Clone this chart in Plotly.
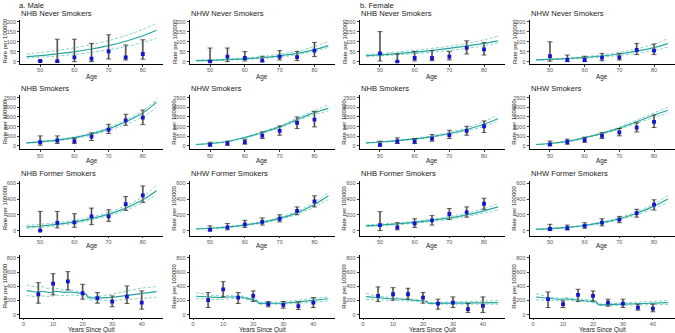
import plotly.graph_objects as go

W, H = 675, 333

# ---------------- data ----------------
AGES = [50, 55, 60, 65, 70, 75, 80]
FIT_AGES = [46, 50, 55, 60, 65, 70, 75, 80, 84]
YSQ = [5, 10, 15, 20, 25, 30, 35, 40]
FIT_YSQ = [1, 4, 6, 9, 11, 14, 16, 19, 21, 22, 24, 30, 35, 40, 45]

# Row 1: never smokers
m_nhb_never = [3, 2, 21, 15, 51, 21, 38]
m_nhb_never_lo = [0, 0, 0, 0, 13, 8, 12]
m_nhb_never_hi = [5, 112, 112, 91, 134, 83, 109]
m_nhb_never_fit = [25, 30, 39, 49, 63, 80, 102, 129, 157]
m_nhb_never_fit_lo = [18, 22, 28, 36, 46, 59, 75, 96, 116]
m_nhb_never_fit_hi = [38, 45, 56, 69, 85, 105, 130, 161, 190]

m_nhw_never = [0, 25, 18, 5, 25, 22, 55]
m_nhw_never_lo = [0, 0, 3, 0, 8, 5, 25]
m_nhw_never_hi = [68, 68, 50, 27, 55, 51, 96]
m_nhw_never_fit = [5, 6.7, 9.7, 14, 20, 29, 41, 60, 80]
m_nhw_never_fit_lo = [4, 5, 8, 11, 16, 23, 34, 52, 71]
m_nhw_never_fit_hi = [7, 9, 13, 18, 26, 37, 52, 76, 100]

f_nhb_never = [41, 0, 18, 18, 25, 69, 61]
f_nhb_never_lo = [3, 0, 3, 5, 8, 38, 33]
f_nhb_never_hi = [150, 38, 51, 55, 51, 104, 96]
f_nhb_never_fit = [30, 34, 40, 47, 56, 66, 78, 91, 104]
f_nhb_never_fit_lo = [25, 29, 34, 40, 47, 56, 66, 79, 92]
f_nhb_never_fit_hi = [36, 41, 48, 56, 66, 77, 91, 109, 127]

f_nhw_never = [27, 8, 8, 20, 21, 58, 55]
f_nhw_never_lo = [2, 0, 0, 4, 8, 35, 35]
f_nhw_never_hi = [99, 33, 27, 41, 41, 91, 88]
f_nhw_never_fit = [9, 11.5, 15.5, 21, 28, 38, 52, 70, 90]
f_nhw_never_fit_lo = [8, 10, 13, 17, 23, 31, 41, 56, 72]
f_nhw_never_fit_hi = [10, 13, 18, 25, 34, 46, 63, 87, 115]

# Row 2: smokers
m_nhb_smk = [190, 276, 241, 483, 845, 1327, 1465]
m_nhb_smk_lo = [34, 120, 120, 276, 638, 1069, 1103]
m_nhb_smk_hi = [517, 517, 397, 672, 1120, 1638, 1862]
m_nhb_smk_fit = [155, 210, 300, 430, 620, 880, 1250, 1700, 2270]
m_nhb_smk_fit_lo = [140, 190, 270, 390, 560, 800, 1110, 1510, 1980]
m_nhb_smk_fit_hi = [170, 230, 330, 470, 670, 950, 1330, 1830, 2400]

m_nhw_smk = [52, 120, 190, 534, 776, 1190, 1362]
m_nhw_smk_lo = [0, 34, 86, 379, 552, 897, 983]
m_nhw_smk_hi = [190, 241, 345, 724, 1034, 1500, 1793]
m_nhw_smk_fit = [69, 120, 224, 431, 690, 983, 1362, 1724, 1948]
m_nhw_smk_fit_lo = [62, 110, 205, 400, 650, 930, 1290, 1620, 1810]
m_nhw_smk_fit_hi = [75, 130, 240, 460, 730, 1040, 1440, 1840, 2140]

f_nhb_smk = [52, 224, 224, 379, 552, 776, 1017]
f_nhb_smk_lo = [0, 120, 120, 241, 379, 552, 690]
f_nhb_smk_hi = [241, 414, 379, 586, 810, 1017, 1293]
f_nhb_smk_fit = [155, 200, 270, 360, 480, 640, 850, 1120, 1410]
f_nhb_smk_fit_lo = [145, 185, 250, 335, 445, 590, 780, 1010, 1270]
f_nhb_smk_fit_hi = [165, 215, 290, 390, 520, 700, 940, 1260, 1630]

f_nhw_smk = [80, 200, 300, 520, 700, 950, 1250]
f_nhw_smk_lo = [0, 80, 180, 380, 520, 720, 950]
f_nhw_smk_hi = [250, 350, 450, 680, 900, 1200, 1600]
f_nhw_smk_fit = [70, 120, 230, 420, 650, 920, 1250, 1600, 1850]
f_nhw_smk_fit_lo = [62, 110, 210, 390, 610, 860, 1170, 1480, 1700]
f_nhw_smk_fit_hi = [78, 130, 250, 450, 690, 980, 1330, 1720, 2000]

# Row 3: former smokers
m_nhb_frm = [0, 97, 105, 180, 180, 336, 445]
m_nhb_frm_lo = [0, 34, 42, 75, 117, 256, 357]
m_nhb_frm_hi = [243, 243, 214, 285, 264, 432, 566]
m_nhb_frm_fit = [45, 58, 80, 110, 152, 208, 285, 390, 505]
m_nhb_frm_fit_lo = [30, 42, 62, 92, 135, 188, 258, 355, 450]
m_nhb_frm_fit_hi = [68, 80, 100, 130, 172, 232, 315, 430, 575]

m_nhw_frm = [10, 40, 80, 110, 150, 250, 370]
m_nhw_frm_lo = [0, 10, 40, 70, 110, 200, 300]
m_nhw_frm_hi = [60, 90, 130, 160, 200, 300, 440]
m_nhw_frm_fit = [20, 30, 45, 70, 105, 155, 225, 330, 440]
m_nhw_frm_fit_lo = [16, 25, 39, 62, 95, 142, 205, 300, 395]
m_nhw_frm_fit_hi = [25, 36, 52, 78, 115, 168, 245, 360, 485]

f_nhb_frm = [70, 40, 90, 130, 210, 230, 340]
f_nhb_frm_lo = [0, 10, 40, 70, 140, 170, 270]
f_nhb_frm_hi = [240, 100, 150, 190, 280, 300, 410]
f_nhb_frm_fit = [60, 70, 85, 105, 130, 160, 200, 250, 300]
f_nhb_frm_fit_lo = [50, 60, 74, 93, 116, 144, 180, 222, 262]
f_nhb_frm_fit_hi = [72, 82, 97, 118, 145, 178, 222, 280, 340]

f_nhw_frm = [20, 30, 60, 100, 140, 220, 330]
f_nhw_frm_lo = [0, 10, 30, 60, 100, 170, 260]
f_nhw_frm_hi = [80, 70, 100, 150, 180, 270, 390]
f_nhw_frm_fit = [15, 25, 40, 65, 100, 150, 220, 310, 400]
f_nhw_frm_fit_lo = [12, 20, 34, 57, 90, 136, 200, 280, 355]
f_nhw_frm_fit_hi = [19, 30, 47, 73, 110, 164, 240, 340, 445]

# Row 4: years since quit
m_nhb_ysq = [288, 437, 470, 302, 233, 186, 256, 172]
m_nhb_ysq_lo = [163, 279, 349, 219, 163, 112, 158, 79]
m_nhb_ysq_hi = [451, 577, 605, 428, 312, 265, 405, 335]
m_nhb_ysq_fit = [340, 320, 330, 310, 330, 315, 320, 300, 290, 240, 235, 245, 275, 305, 325]
m_nhb_ysq_fit_lo = [270, 255, 265, 255, 275, 270, 280, 265, 260, 210, 205, 200, 215, 235, 245]
m_nhb_ysq_fit_hi = [420, 390, 395, 360, 370, 345, 345, 320, 305, 255, 250, 290, 335, 375, 395]

m_nhw_ysq = [205, 358, 242, 265, 149, 140, 121, 172]
m_nhw_ysq_lo = [102, 251, 158, 186, 112, 93, 74, 102]
m_nhw_ysq_hi = [312, 465, 312, 335, 186, 186, 181, 242]
m_nhw_ysq_fit = [260, 250, 245, 240, 250, 250, 250, 220, 200, 160, 160, 165, 180, 200, 225]
m_nhw_ysq_fit_lo = [225, 215, 215, 215, 225, 230, 232, 205, 185, 148, 148, 150, 160, 175, 195]
m_nhw_ysq_fit_hi = [310, 285, 275, 265, 270, 265, 265, 235, 215, 175, 172, 185, 205, 225, 250]

f_nhb_ysq = [265, 288, 288, 242, 158, 172, 79, 126]
f_nhb_ysq_lo = [186, 205, 219, 163, 79, 102, 33, 33]
f_nhb_ysq_hi = [391, 381, 372, 312, 219, 251, 158, 251]
f_nhb_ysq_fit = [255, 240, 235, 225, 225, 215, 210, 200, 190, 160, 160, 165, 165, 170, 170]
f_nhb_ysq_fit_lo = [215, 210, 210, 205, 208, 200, 198, 188, 178, 150, 150, 152, 150, 150, 148]
f_nhb_ysq_fit_hi = [300, 265, 255, 240, 240, 228, 222, 210, 200, 172, 172, 180, 185, 195, 200]

f_nhw_ysq = [219, 149, 279, 265, 172, 158, 102, 88]
f_nhw_ysq_lo = [102, 102, 186, 195, 121, 102, 65, 42]
f_nhw_ysq_hi = [321, 195, 358, 335, 219, 219, 149, 149]
f_nhw_ysq_fit = [250, 240, 225, 215, 225, 210, 205, 195, 180, 140, 140, 150, 155, 165, 170]
f_nhw_ysq_fit_lo = [210, 210, 200, 195, 205, 195, 190, 180, 165, 130, 130, 135, 140, 142, 145]
f_nhw_ysq_fit_hi = [295, 260, 245, 230, 240, 225, 220, 210, 195, 152, 152, 165, 175, 190, 200]

TITLES = [
    ["NHB Never Smokers", "NHW Never Smokers", "NHB Never Smokers", "NHW Never Smokers"],
    ["NHB Smokers", "NHW Smokers", "NHB Smokers", "NHW Smokers"],
    ["NHB Former Smokers", "NHW Former Smokers", "NHB Former Smokers", "NHW Former Smokers"],
    ["", "", "", ""],
]
Y_TICKS = [[0, 50, 100, 150, 200], [0, 500, 1000, 1500, 2000, 2500],
           [0, 200, 400, 600], [0, 200, 400, 600, 800]]

PANELS = [
    [(m_nhb_never, m_nhb_never_lo, m_nhb_never_hi, m_nhb_never_fit, m_nhb_never_fit_lo, m_nhb_never_fit_hi),
     (m_nhw_never, m_nhw_never_lo, m_nhw_never_hi, m_nhw_never_fit, m_nhw_never_fit_lo, m_nhw_never_fit_hi),
     (f_nhb_never, f_nhb_never_lo, f_nhb_never_hi, f_nhb_never_fit, f_nhb_never_fit_lo, f_nhb_never_fit_hi),
     (f_nhw_never, f_nhw_never_lo, f_nhw_never_hi, f_nhw_never_fit, f_nhw_never_fit_lo, f_nhw_never_fit_hi)],
    [(m_nhb_smk, m_nhb_smk_lo, m_nhb_smk_hi, m_nhb_smk_fit, m_nhb_smk_fit_lo, m_nhb_smk_fit_hi),
     (m_nhw_smk, m_nhw_smk_lo, m_nhw_smk_hi, m_nhw_smk_fit, m_nhw_smk_fit_lo, m_nhw_smk_fit_hi),
     (f_nhb_smk, f_nhb_smk_lo, f_nhb_smk_hi, f_nhb_smk_fit, f_nhb_smk_fit_lo, f_nhb_smk_fit_hi),
     (f_nhw_smk, f_nhw_smk_lo, f_nhw_smk_hi, f_nhw_smk_fit, f_nhw_smk_fit_lo, f_nhw_smk_fit_hi)],
    [(m_nhb_frm, m_nhb_frm_lo, m_nhb_frm_hi, m_nhb_frm_fit, m_nhb_frm_fit_lo, m_nhb_frm_fit_hi),
     (m_nhw_frm, m_nhw_frm_lo, m_nhw_frm_hi, m_nhw_frm_fit, m_nhw_frm_fit_lo, m_nhw_frm_fit_hi),
     (f_nhb_frm, f_nhb_frm_lo, f_nhb_frm_hi, f_nhb_frm_fit, f_nhb_frm_fit_lo, f_nhb_frm_fit_hi),
     (f_nhw_frm, f_nhw_frm_lo, f_nhw_frm_hi, f_nhw_frm_fit, f_nhw_frm_fit_lo, f_nhw_frm_fit_hi)],
    [(m_nhb_ysq, m_nhb_ysq_lo, m_nhb_ysq_hi, m_nhb_ysq_fit, m_nhb_ysq_fit_lo, m_nhb_ysq_fit_hi),
     (m_nhw_ysq, m_nhw_ysq_lo, m_nhw_ysq_hi, m_nhw_ysq_fit, m_nhw_ysq_fit_lo, m_nhw_ysq_fit_hi),
     (f_nhb_ysq, f_nhb_ysq_lo, f_nhb_ysq_hi, f_nhb_ysq_fit, f_nhb_ysq_fit_lo, f_nhb_ysq_fit_hi),
     (f_nhw_ysq, f_nhw_ysq_lo, f_nhw_ysq_hi, f_nhw_ysq_fit, f_nhw_ysq_fit_lo, f_nhw_ysq_fit_hi)],
]

# ---------------- layout geometry (pixels) ----------------
COL_X = [(20, 163), (189.5, 335), (359.5, 504.5), (529.5, 674.5)]
ROW_Y = [(18.7, 63), (95, 149), (181, 236), (255.5, 318.5)]
ROW_YRANGE = [[-10, 210], [-170, 2619], [-63, 629], [-39, 839]]
TITLE_Y = [12.3, 88.3, 174, None]
XTITLE_Y = [76.5, 161, 246, 330.5]

FONT = "Liberation Sans, Arial, sans-serif"
LINE_COL = "#22A6A0"
BAND_COL = "#86D5C5"
PT_COL = "#1515D0"


def fx(p):
    return p / W


def fy(p):
    return 1 - p / H


fig = go.Figure()
annotations = []
layout = {}

for r in range(4):
    for c in range(4):
        k = r * 4 + c + 1
        xa = "x" if k == 1 else f"x{k}"
        ya = "y" if k == 1 else f"y{k}"
        obs, lo, hi, fit, flo, fhi = PANELS[r][c]
        xs = YSQ if r == 3 else AGES
        fxs = FIT_YSQ if r == 3 else FIT_AGES
        shape = "linear" if r == 3 else "spline"

        fig.add_trace(go.Scatter(x=fxs, y=fhi, mode="lines", xaxis=xa, yaxis=ya,
                                 line=dict(color=BAND_COL, width=1, dash="3px,2px", shape=shape),
                                 showlegend=False, hoverinfo="skip"))
        fig.add_trace(go.Scatter(x=fxs, y=flo, mode="lines", xaxis=xa, yaxis=ya,
                                 line=dict(color=BAND_COL, width=1, dash="3px,2px", shape=shape),
                                 showlegend=False, hoverinfo="skip"))
        fig.add_trace(go.Scatter(x=fxs, y=fit, mode="lines", xaxis=xa, yaxis=ya,
                                 line=dict(color=LINE_COL, width=1.2, shape=shape),
                                 showlegend=False, hoverinfo="skip"))
        ep = [h - o for h, o in zip(hi, obs)]
        em = [o - l for o, l in zip(obs, lo)]
        fig.add_trace(go.Scatter(x=xs, y=obs, mode="markers", xaxis=xa, yaxis=ya,
                                 marker=dict(size=0.1, color="rgba(0,0,0,0)"),
                                 error_y=dict(type="data", array=ep, arrayminus=em,
                                              color="#a0a0a0", thickness=2, width=0),
                                 showlegend=False, hoverinfo="skip"))
        fig.add_trace(go.Scatter(x=xs, y=obs, mode="markers", xaxis=xa, yaxis=ya,
                                 marker=dict(size=3.8, color=PT_COL, symbol="square"),
                                 error_y=dict(type="data", array=ep, arrayminus=em,
                                              color="#222222", thickness=0.7, width=2.5),
                                 showlegend=False))

        x0, x1 = COL_X[c]
        y0, y1 = ROW_Y[r]
        axcommon = dict(showgrid=False, zeroline=False, showline=True, linecolor="black",
                        linewidth=0.8, ticks="outside", ticklen=2, tickwidth=0.6,
                        tickcolor="#333", tickfont=dict(size=5.5, color="#555555", family=FONT))
        if r == 3:
            xr = [-1.2, 47.2]
            xt = [0, 10, 20, 30, 40]
        else:
            xr = [44.1, 85.9]
            xt = [50, 60, 70, 80]
        layout["xaxis" if k == 1 else f"xaxis{k}"] = dict(
            domain=[fx(x0), fx(x1)], range=xr, tickvals=xt, anchor=ya, fixedrange=True,
            ticklabelstandoff=-1, **axcommon)
        layout["yaxis" if k == 1 else f"yaxis{k}"] = dict(
            domain=[fy(y1), fy(y0)], range=ROW_YRANGE[r], tickvals=Y_TICKS[r], anchor=xa,
            fixedrange=True, **axcommon)

        if TITLES[r][c]:
            annotations.append(dict(text=TITLES[r][c], x=fx(x0 - 1), y=fy(TITLE_Y[r]), xref="paper",
                                    yref="paper", xanchor="left", yanchor="middle", showarrow=False,
                                    font=dict(size=7.6, color="#1a1a1a", family=FONT)))
        annotations.append(dict(text="Years Since Quit" if r == 3 else "Age",
                                x=fx((x0 + x1) / 2), y=fy(XTITLE_Y[r]), xref="paper", yref="paper",
                                xanchor="center", yanchor="middle", showarrow=False,
                                font=dict(size=6.3, color="#1a1a1a", family=FONT)))
        annotations.append(dict(text="Rate per 100000", x=fx(x0 - 15), y=fy((y0 + y1) / 2),
                                xref="paper", yref="paper", xanchor="center", yanchor="middle",
                                textangle=-90, showarrow=False,
                                font=dict(size=6, color="#1a1a1a", family=FONT)))

annotations.append(dict(text="a. Male", x=fx(17), y=fy(4.5), xref="paper", yref="paper",
                        xanchor="left", yanchor="middle", showarrow=False,
                        font=dict(size=7.6, color="#1a1a1a", family=FONT)))
annotations.append(dict(text="b. Female", x=fx(358), y=fy(4.5), xref="paper", yref="paper",
                        xanchor="left", yanchor="middle", showarrow=False,
                        font=dict(size=7.6, color="#1a1a1a", family=FONT)))

fig.update_layout(width=W, height=H, margin=dict(l=0, r=0, t=0, b=0),
                  plot_bgcolor="white", paper_bgcolor="white", annotations=annotations,
                  showlegend=False, font=dict(family=FONT), **layout)

fig.write_html("out.html", include_plotlyjs=True, config={"displayModeBar": False})
